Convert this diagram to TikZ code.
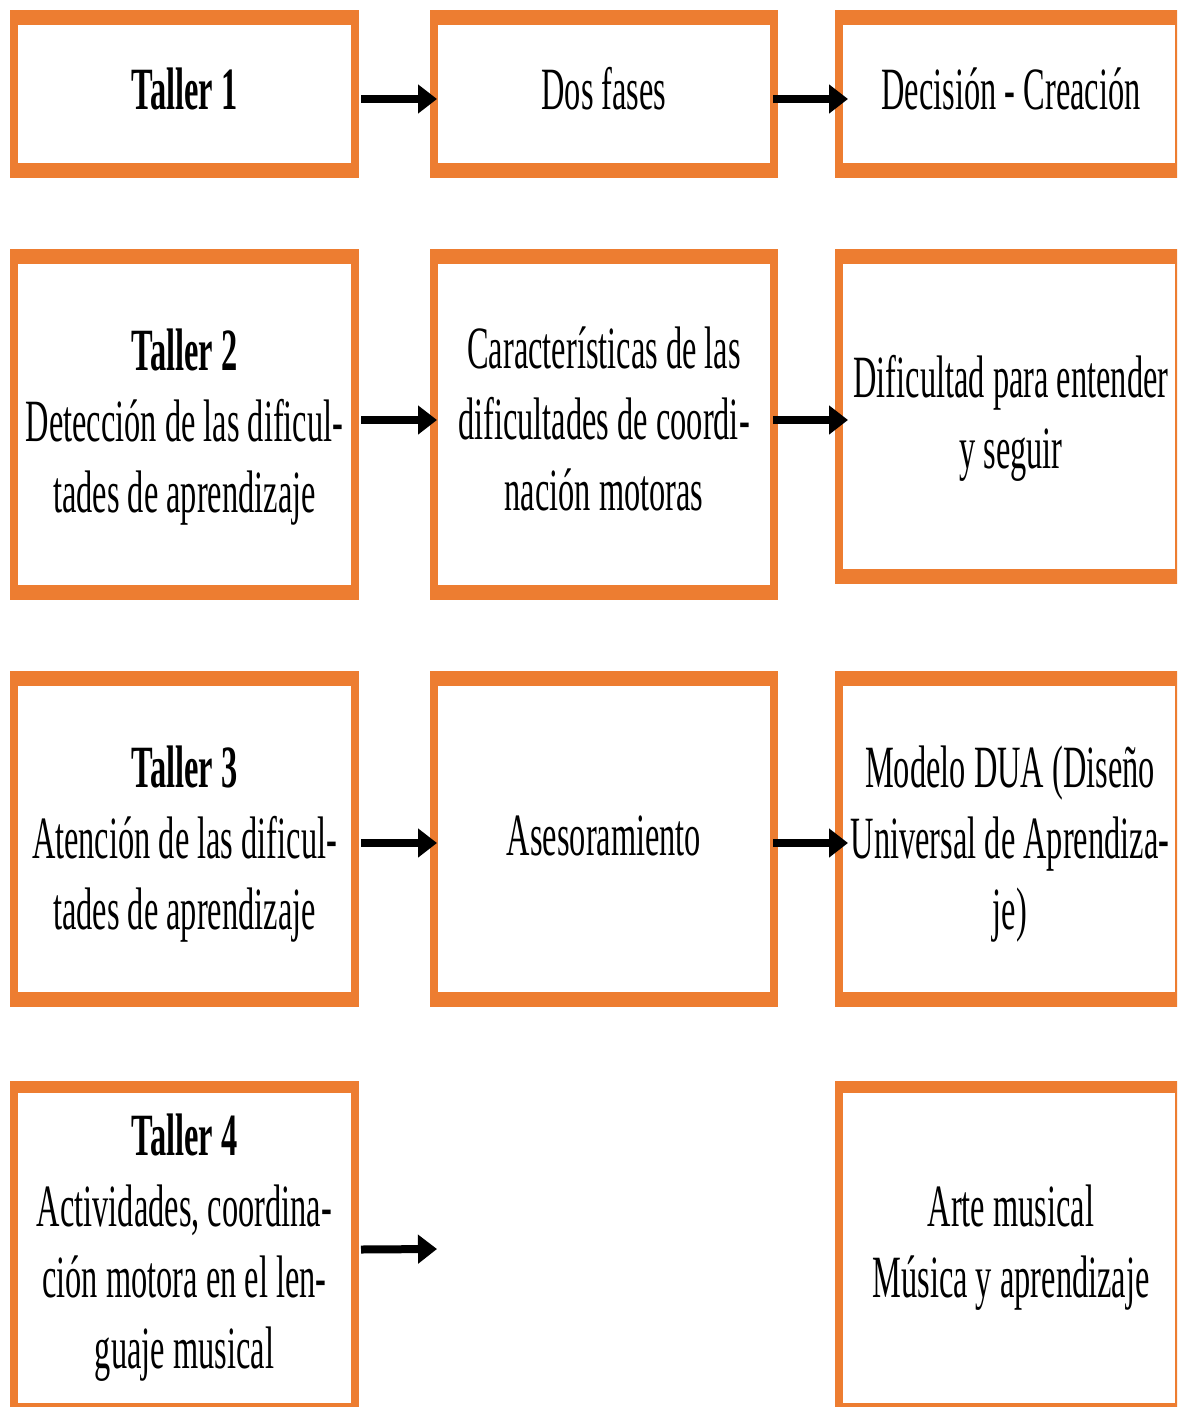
\documentclass[tikz,border=0pt]{standalone}
\usepackage{fontspec}
\setmainfont{Liberation Serif}[FakeStretch=0.54]
\usetikzlibrary{arrows.meta}
\definecolor{borange}{HTML}{ED7D31}
\tikzset{
  bt/.store in=\boxtop, bt=15,
  obox/.style={fill=borange, draw=none, inner sep=0pt, outer sep=0pt, minimum width=348pt,
    path picture={\fill[white] ([xshift=8pt,yshift=-\boxtop pt]path picture bounding box.north west)
      rectangle ([xshift=-8pt,yshift=15pt]path picture bounding box.south east);}},
  txt/.style={inner sep=0pt, align=center, anchor=base, font=\fontsize{60}{71}\selectfont},
  arr/.style={line width=8pt, black, -{Triangle[length=19pt,width=28pt]}}
}
\begin{document}
\begin{tikzpicture}[x=1pt,y=-1pt]
\useasboundingbox (0,0) rectangle (1177,1407);
\clip (0,0) rectangle (1177,1407);
\fill[white] (0,0) rectangle (1177,1407);
% boxes
\node[obox, minimum width=349pt, minimum height=168pt] (L1) at (184.5,94) {};
\node[obox, minimum height=168pt] (M1) at (604,94) {};
\node[obox, minimum height=168pt] (R1) at (1009,94) {};
\node[obox, minimum width=349pt, minimum height=351pt] (L2) at (184.5,424.5) {};
\node[obox, minimum height=351pt] (M2) at (604,424.5) {};
\node[obox, minimum height=335pt] (R2) at (1009,416.5) {};
\node[obox, minimum width=349pt, minimum height=336pt] (L3) at (184.5,839) {};
\node[obox, minimum height=336pt] (M3) at (604,839) {};
\node[obox, minimum height=336pt] (R3) at (1009,839) {};
\node[obox, bt=12, minimum width=349pt, minimum height=337pt] (L4) at (184.5,1249.5) {};
\node[obox, bt=12, minimum height=337pt] (R4) at (1009,1249.5) {};
% texts (anchor=base is the baseline of the last line)
\node[txt] (tL1) at (184.5,110) {\textbf{Taller 1}};
\node[txt] (tM1) at (604,110) {Dos fases};
\node[txt] (tR1) at (1011,110) {Decisión - Creación};
\node[txt] (tL2) at (184.5,512) {\textbf{Taller 2}\\Detección de las dificul-\\tades de aprendizaje};
\node[txt] (tM2) at (604,510) {Características de las\\dificultades de coordi-\\nación motoras};
\node[txt] (tR2) at (1011,468) {Dificultad para entender\\y seguir};
\node[txt] (tL3) at (184.5,929) {\textbf{Taller 3}\\Atención de las dificul-\\tades de aprendizaje};
\node[txt] (tM3) at (604,855) {Asesoramiento};
\node[txt] (tR3) at (1010,929) {Modelo DUA (Diseño\\Universal de Aprendiza-\\je)};
\node[txt] (tL4) at (184.5,1368) {\textbf{Taller 4}\\Actividades, coordina-\\ción motora en el len-\\guaje musical};
\node[txt] (tR4) at (1011,1297) {Arte musical\\Música y aprendizaje};
% arrows
\draw[arr] ([xshift=2pt,yshift=-5pt]L1.east) -- ([xshift=7pt,yshift=-5pt]M1.west);
\draw[arr] ([xshift=-5pt,yshift=-5pt]M1.east) -- ([xshift=13pt,yshift=-5pt]R1.west);
\draw[arr] ([xshift=2pt,yshift=4.5pt]L2.east) -- ([xshift=7pt,yshift=4.5pt]M2.west);
\draw[arr] ([xshift=-5pt,yshift=4.5pt]M2.east) -- ([xshift=13pt,yshift=-3.5pt]R2.west);
\draw[arr] ([xshift=2pt,yshift=-4pt]L3.east) -- ([xshift=7pt,yshift=-4pt]M3.west);
\draw[arr] ([xshift=-5pt,yshift=-4pt]M3.east) -- ([xshift=13pt,yshift=-4pt]R3.west);
\coordinate (e4) at (437,1249);
\draw[arr] ([xshift=2pt]L4.east) -- (e4);
\end{tikzpicture}
\end{document}
